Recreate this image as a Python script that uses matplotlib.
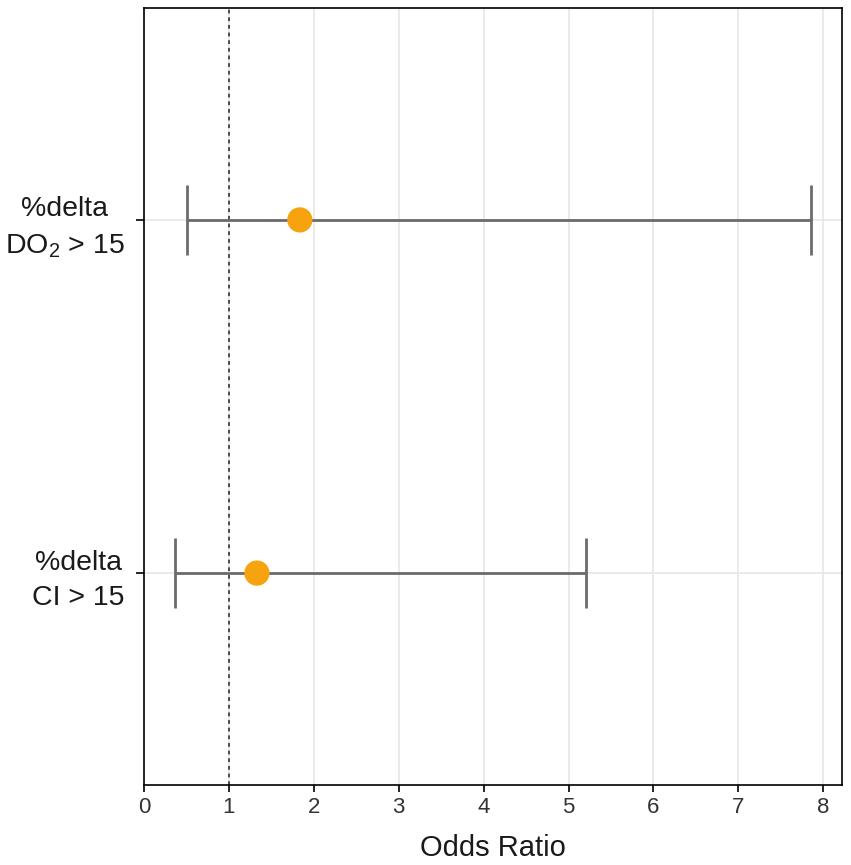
import matplotlib.pyplot as plt
import numpy as np

# odds ratios with 95% CI
labels = ['%delta\nCI > 15', '%delta\nDO$_2$ > 15']
odds = [1.33, 1.835]
lower = [0.37, 0.505]
upper = [5.20, 7.86]
xticks = [0, 1, 2, 3, 4, 5, 6, 7, 8]

plt.rcParams['font.family'] = ['Liberation Sans', 'DejaVu Sans']
plt.rcParams['mathtext.fontset'] = 'custom'
plt.rcParams['mathtext.rm'] = 'Liberation Sans'

fig = plt.figure(figsize=(8.51, 8.65), dpi=100)
ax = fig.add_axes([144/851, 1 - 785/865, (842-144)/851, (785-8)/865])
ax.set_axisbelow(True)

y = np.arange(1, len(labels) + 1)

ax.grid(True, color='#e8e8e8', linewidth=1.3)
ax.axvline(1, color='#222222', linestyle=(0, (2.5, 2.5)), linewidth=1.1, zorder=1)

for yi, lo, hi in zip(y, lower, upper):
    ax.hlines(yi, lo, hi, color='#6b6b6b', linewidth=2, zorder=2)
    ax.vlines([lo, hi], yi - 0.1, yi + 0.1, color='#6b6b6b', linewidth=2, zorder=2)

ax.scatter(odds, y, s=330, color='#F7A20F', edgecolors='none', zorder=3)

ax.set_xlim(0, 8.22)
ax.set_ylim(0.4, 2.6)
ax.set_xticks(xticks)
ax.set_yticks(y)
ax.set_yticklabels(labels, multialignment='center', linespacing=1.45,
                   fontsize=20.5, color='#1a1a1a')
ax.tick_params(axis='x', labelsize=16, labelcolor='#333333', length=5, width=1.2)
ax.tick_params(axis='y', length=6, width=1.2, pad=8)
ax.set_xlabel('Odds Ratio', fontsize=21, color='#1a1a1a', labelpad=12)

for s in ax.spines.values():
    s.set_linewidth(1.2)
    s.set_color('#000000')

fig.savefig('out.png', dpi=100)
